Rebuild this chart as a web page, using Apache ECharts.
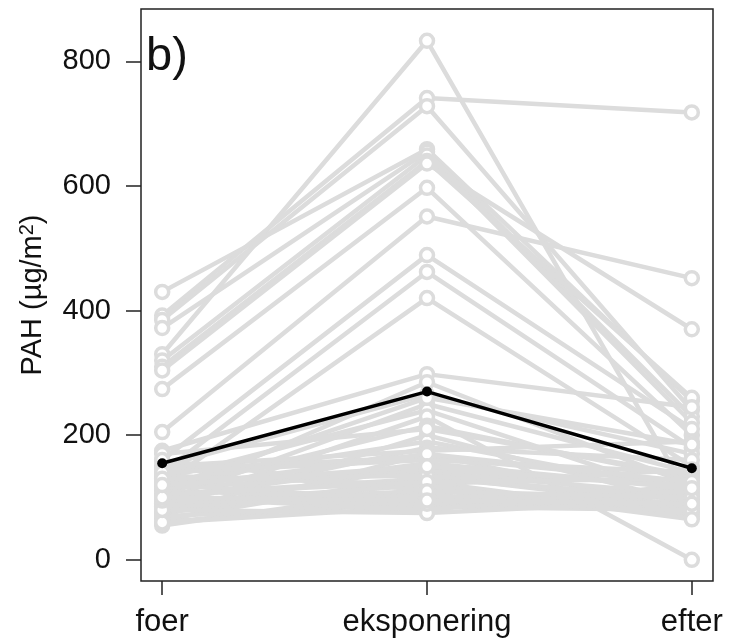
<!DOCTYPE html>
<html>
<head>
<meta charset="utf-8">
<script src="https://cdn.jsdelivr.net/npm/echarts@6/dist/echarts.min.js"></script>
<style>
  html, body { margin: 0; padding: 0; background: #fff; }
  #chart { width: 730px; height: 640px; }
</style>
</head>
<body>
<div id="chart"></div>
<script>
// periods on the x axis
const periods = ['foer', 'eksponering', 'efter'];
const yTicks = [0, 200, 400, 600, 800];

// PAH per subject (µg/m2)
const foer = [330, 392, 385, 430, 372, 320, 310, 304, 274, 205,
              160, 140, 120, 175, 100, 150, 95, 130, 85, 110,
              70, 125, 90, 60, 145, 100, 80, 115, 65, 105,
              75, 135, 55, 95, 85, 60, 120, 70, 60, 100,
              150, 170, 115, 90, 80, 125, 110, 140, 95, 130,
              105, 160, 115, 100, 120];
const eksponering = [833, 741, 728, 659, 655, 649, 640, 636, 597, 551,
                     489, 462, 420, 298, 285, 265, 250, 240, 230, 215,
                     200, 190, 180, 170, 165, 155, 150, 140, 135, 130,
                     125, 120, 115, 110, 105, 100, 95, 90, 85, 80,
                     175, 210, 260, 120, 75, 145, 100, 160, 90, 135,
                     125, 110, 170, 95, 150];
const efter = [95, 718, 240, 255, 230, 220, 260, 370, 200, 452,
               210, 180, 150, 245, 120, 170, 140, 100, 0, 130,
               90, 110, 160, 80, 125, 115, 95, 105, 85, 100,
               70, 145, 80, 90, 75, 100, 110, 85, 80, 120,
               190, 135, 185, 65, 95, 120, 105, 140, 110, 95,
               130, 100, 125, 90, 115];
// mean line
const meanValues = [155, 270, 147];

const grey = '#dcdcdc';
const fontFamily = '"Liberation Sans", Arial, sans-serif';

const chart = echarts.init(document.getElementById('chart'));

let series = [];
for (let i = 0; i < foer.length; i++) {
    series.push({
        type: 'line',
        data: [[1, foer[i]], [2, eksponering[i]], [3, efter[i]]],
        symbol: 'circle',
        symbolSize: 13,
        lineStyle: { color: grey, width: 4.5 },
        itemStyle: { color: '#fff', borderColor: grey, borderWidth: 3.5 },
        z: 2
    });
}
series.push({
    type: 'line',
    data: meanValues.map((v, i) => [i + 1, v]),
    symbol: 'circle',
    symbolSize: 10,
    lineStyle: { color: '#000', width: 3.5 },
    itemStyle: { color: '#000', borderWidth: 0 },
    z: 5
});

const option = {
    animation: false,
    grid: {
        left: 141, right: 17, top: 9, bottom: 59,
        show: true,
        borderColor: '#222',
        borderWidth: 1.5,
        backgroundColor: 'transparent'
    },
    xAxis: {
        type: 'value',
        min: 0.92,
        max: 3.08,
        axisLine: { show: false, onZero: false },
        splitLine: { show: false },
        axisTick: {
            show: true, inside: false, length: 14,
            customValues: [1, 2, 3],
            lineStyle: { color: '#222', width: 1.5 }
        },
        axisLabel: {
            customValues: [1, 2, 3],
            margin: 26,
            color: '#111',
            fontSize: 31,
            fontFamily: fontFamily,
            formatter: function (v) { return periods[Math.round(v) - 1]; }
        }
    },
    yAxis: {
        type: 'value',
        min: -34,
        max: 884,
        axisLine: { show: false, onZero: false },
        splitLine: { show: false },
        axisTick: {
            show: true, inside: false, length: 15,
            customValues: yTicks,
            lineStyle: { color: '#222', width: 1.5 }
        },
        axisLabel: {
            customValues: yTicks,
            margin: 30,
            color: '#111',
            fontSize: 29,
            fontFamily: fontFamily
        }
    },
    graphic: [
        {
            type: 'text',
            x: 33, y: 295,
            rotation: Math.PI / 2,
            style: {
                text: 'PAH (µg/m{sup|2})',
                fill: '#111',
                font: '29px ' + fontFamily,
                align: 'center',
                verticalAlign: 'middle',
                rich: {
                    sup: { fontSize: 20, fontFamily: fontFamily, verticalAlign: 'top', padding: [0, 0, 12, 0], fill: '#111' }
                }
            }
        },
        {
            type: 'text',
            x: 146, y: 57,
            style: {
                text: 'b)',
                fill: '#111',
                font: '47px ' + fontFamily,
                align: 'left',
                verticalAlign: 'middle'
            },
            z: 10
        }
    ],
    series: series
};
chart.setOption(option);
</script>
</body>
</html>
